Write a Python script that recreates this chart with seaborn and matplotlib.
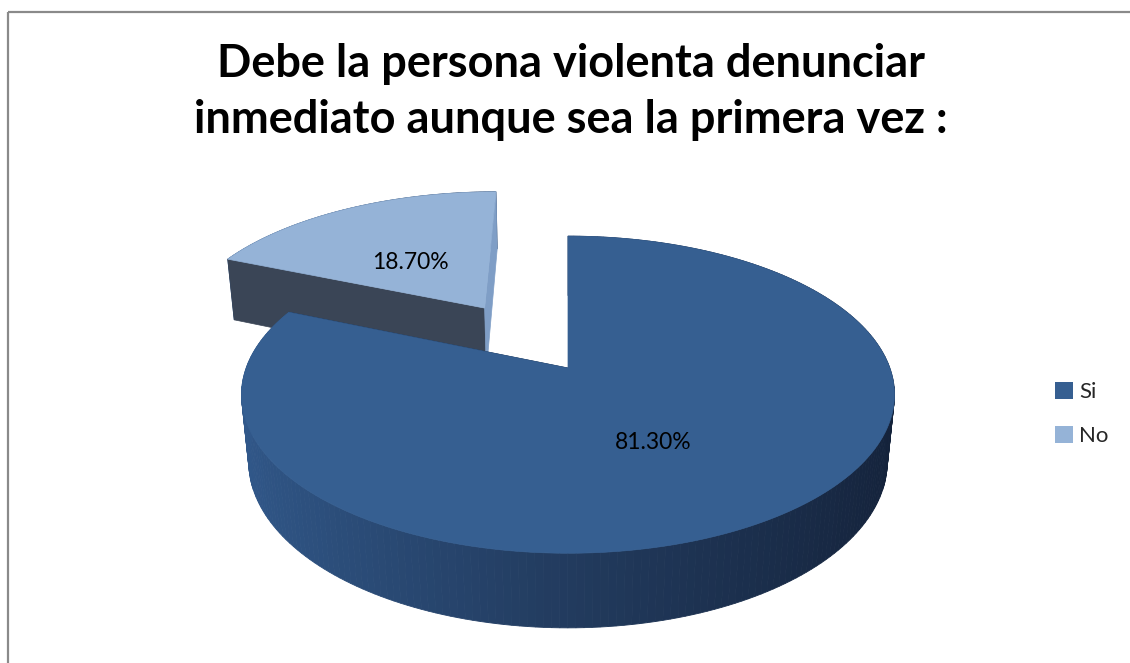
import numpy as np
import matplotlib
matplotlib.use("Agg")
import matplotlib.pyplot as plt
from matplotlib.patches import Polygon, Rectangle, Patch
from matplotlib.colors import LinearSegmentedColormap
import seaborn as sns

# Survey answers
categories = ["Si", "No"]
shares = [81.30, 18.70]
value_labels = ["81.30%", "18.70%"]
title = "Debe la persona violenta denunciar\ninmediato aunque sea la primera vez :"

sns.set_theme(style="white")
plt.rcParams["font.family"] = ["Lato", "DejaVu Sans"]

top_colors = ["#365f91", "#95b3d7"]
# (start edge, end edge) wall colours of each slice
radial_colors = {"Si": ("#14233a", "#14233a"), "No": ("#3a4556", "#7f9ec6")}
side_cmap = LinearSegmentedColormap.from_list("side", ["#31588a", "#223b5e", "#14223a"])

# Perspective view of a tilted disc
ELEV = np.radians(28.6)
DIST = 5.22
FOCAL = 1680.0
CX, CY = 568.0, 368.0
THICK = 0.24
EXPLODE = {"Si": 0.0, "No": 0.5}
# label placement: (radius, angular nudge in degrees)
LABEL_POS = {"Si": (0.51, 5.0), "No": (0.45, -4.0)}


def project(x, y, z):
    s, c = np.sin(ELEV), np.cos(ELEV)
    yy = y * s + z * c
    zc = y * c - z * s + DIST
    return CX + FOCAL * x / zc, CY - FOCAL * yy / zc


fig = plt.figure(figsize=(11.3, 6.63), dpi=100)
ax = fig.add_axes([0, 0, 1, 1])
ax.set_xlim(0, 1130)
ax.set_ylim(663, 0)
ax.axis("off")

fracs = np.array(shares) / np.sum(shares)
bounds = np.concatenate([[0], np.cumsum(fracs)]) * 2 * np.pi

slices = []
for i, name in enumerate(categories):
    t0, t1 = bounds[i], bounds[i + 1]
    mid = 0.5 * (t0 + t1)
    d = EXPLODE[name]
    ox, oy = d * np.sin(mid), d * np.cos(mid)
    slices.append((i, name, t0, t1, mid, ox, oy))

# paint the farther slice first
order = sorted(slices, key=lambda s: -(s[6]))
for i, name, t0, t1, mid, ox, oy in order:
    t = np.linspace(t0, t1, 240)
    ax_x = ox + np.sin(t)
    ax_y = oy + np.cos(t)
    # outer wall, split in strips to carry the shading
    for k in range(len(t) - 1):
        xs = [ax_x[k], ax_x[k + 1], ax_x[k + 1], ax_x[k]]
        ys = [ax_y[k], ax_y[k + 1], ax_y[k + 1], ax_y[k]]
        zs = [0, 0, -THICK, -THICK]
        px, py = project(np.array(xs), np.array(ys), np.array(zs))
        shade = np.clip((np.sin(0.5 * (t[k] + t[k + 1])) + 1) / 2, 0, 1)
        col = side_cmap(shade)
        ax.add_patch(Polygon(np.c_[px, py], closed=True, facecolor=col,
                             edgecolor=col, lw=0.6))
    # radial walls
    for edge_t, col in zip((t0, t1), radial_colors[name]):
        ex, ey = ox + np.sin(edge_t), oy + np.cos(edge_t)
        xs = np.array([ox, ex, ex, ox])
        ys = np.array([oy, ey, ey, oy])
        zs = np.array([0, 0, -THICK, -THICK])
        px, py = project(xs, ys, zs)
        ax.add_patch(Polygon(np.c_[px, py], closed=True, facecolor=col,
                             edgecolor=col, lw=0.5))
    # top face
    xs = np.concatenate([[ox], ax_x])
    ys = np.concatenate([[oy], ax_y])
    px, py = project(xs, ys, np.zeros_like(xs))
    ax.add_patch(Polygon(np.c_[px, py], closed=True, facecolor=top_colors[i],
                         edgecolor=top_colors[i], lw=0.5))

# value labels
for i, name, t0, t1, mid, ox, oy in slices:
    r, nudge = LABEL_POS[name]
    a = mid + np.radians(nudge)
    lx, ly = project(ox + r * np.sin(a), oy + r * np.cos(a), 0.0)
    ax.text(lx, ly, value_labels[i], ha="center", va="center",
            fontsize=16.5, color="black")

ax.text(571, 92, title, ha="center", va="center", fontsize=32.5,
        fontweight="bold", linespacing=1.42, color="black")

handles = [Patch(facecolor=top_colors[i], edgecolor="none", label=c)
           for i, c in enumerate(categories)]
ax.legend(handles=handles, loc="center left",
          bbox_to_anchor=(1035 / 1130, 1 - 414 / 663), frameon=False,
          fontsize=16, handlelength=0.8, handleheight=0.8,
          handletextpad=0.3, labelspacing=1.1)

# chart area frame
ax.add_patch(Rectangle((7.5, 11.5), 1200, 800, fill=False,
                       edgecolor="#8a8a8a", lw=1.6))

fig.savefig("out.png", dpi=100)
